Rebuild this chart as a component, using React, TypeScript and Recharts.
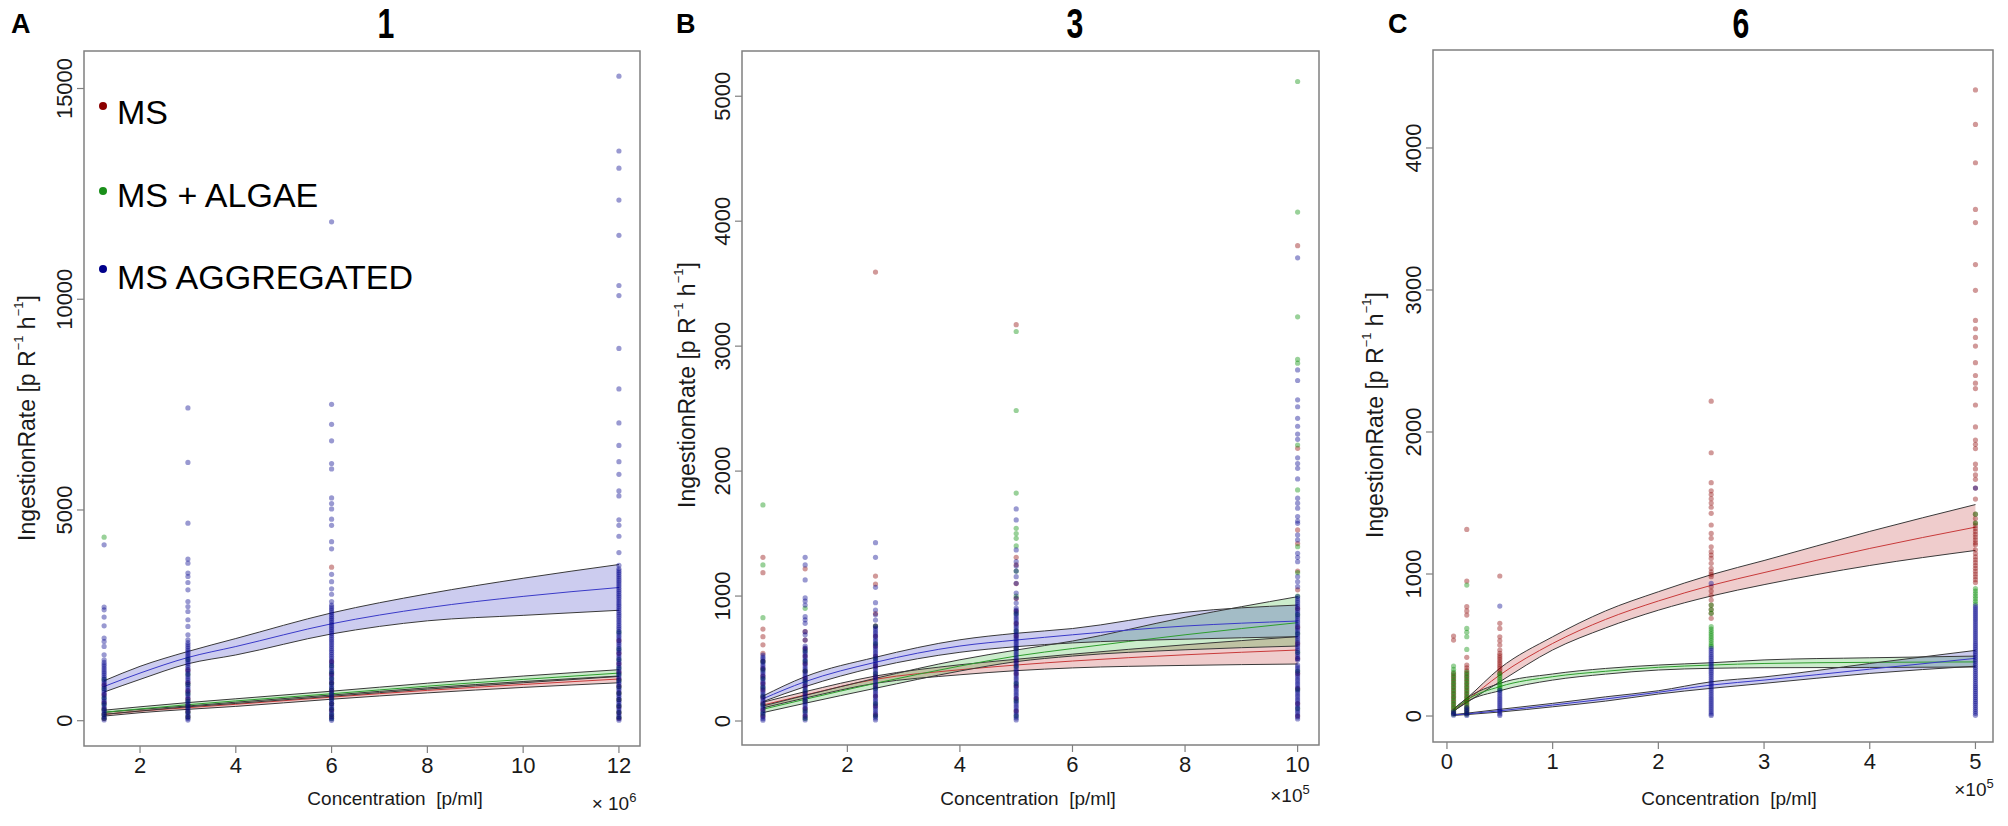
import React from "react";
import {
  ComposedChart,
  Scatter,
  Area,
  Line,
  XAxis,
  YAxis,
  ReferenceArea,
} from "recharts";

// ---------------------------------------------------------------------------
// Panel A — 1 (x 10^6 p/ml)
// ---------------------------------------------------------------------------
const A_CONC = [1.25, 3, 6, 12];

const A_MS = [
  [850, 620, 430, 280, 150, 50],
  [1200, 900, 700, 520, 360, 220, 90],
  [3644, 1400, 1100, 900, 720, 560, 400, 250, 100],
  [1900, 1600, 1350, 1150, 980, 820, 660, 500, 340, 190, 60],
];
const A_ALGAE = [
  [4355, 980, 760, 540, 390, 260, 150, 60],
  [1450, 1100, 860, 640, 470, 330, 200, 90],
  [1300, 1150, 1000, 880, 760, 640, 520, 400, 280, 150, 50],
  [2100, 1700, 1450, 1250, 1100, 950, 800, 650, 500, 350, 200, 80],
];
const A_AGG = [
  [4173, 2696, 2632, 2459, 2252, 1961, 1880, 1762, 1565, 1446,
    1385, 1340, 1296, 1250, 1205, 1160, 1118, 1074, 1030, 985, 940, 898, 852, 810, 765, 720,
    678, 632, 590, 545, 500, 458, 412, 370, 325, 280, 238, 192, 150, 105, 60, 18],
  [7421, 6129, 4687, 3834, 3739, 3502, 3422, 3279, 3106, 2829, 2710, 2591, 2395, 2236, 2039, 1920,
    1852, 1806, 1760, 1716, 1670, 1625, 1580, 1536, 1490, 1445, 1400, 1356, 1310, 1265, 1220,
    1176, 1130, 1085, 1040, 996, 950, 905, 860, 816, 770, 725, 680, 636, 590, 545, 500, 456,
    410, 365, 320, 276, 230, 185, 140, 96, 50, 15],
  [11836, 7507, 7033, 6640, 6103, 5975, 5287, 5154, 5025, 4782, 4635, 4249, 4078, 3474, 3300,
    3130, 3000, 2826, 2745, 2700, 2655, 2610, 2566, 2520, 2475, 2430, 2386, 2340, 2295, 2250,
    2206, 2160, 2115, 2070, 2026, 1980, 1935, 1890, 1846, 1800, 1755, 1710, 1666, 1620, 1575,
    1530, 1486, 1440, 1395, 1350, 1306, 1260, 1215, 1170, 1126, 1080, 1035, 990, 946, 900, 855,
    810, 766, 720, 675, 630, 586, 540, 495, 450, 406, 360, 315, 270, 226, 180, 135, 90, 46, 10],
  [15293, 13517, 13111, 12353, 11516, 10326, 10087, 8834, 7872, 7066, 6532, 6146, 5845, 5453,
    5334, 4766, 4635, 4377, 3990, 3687, 3604, 3560, 3515, 3470, 3426, 3380, 3335, 3290, 3246,
    3200, 3155, 3110, 3066, 3020, 2975, 2930, 2886, 2840, 2795, 2750, 2706, 2660, 2615, 2570,
    2526, 2480, 2435, 2390, 2346, 2300, 2255, 2210, 2166, 2120, 2075, 2030, 1986, 1940, 1895,
    1850, 1806, 1760, 1715, 1670, 1626, 1580, 1535, 1490, 1446, 1400, 1355, 1310, 1266, 1220,
    1175, 1130, 1086, 1040, 995, 950, 906, 860, 815, 770, 726, 680, 635, 590, 546, 500, 455,
    410, 366, 320, 275, 230, 186, 140, 95, 50, 12],
];

const A_FIT_X = [1.25, 2, 3, 4, 6, 8, 10, 12];
const A_MS_FIT = [150, 230, 310, 390, 560, 720, 860, 990];
const A_MS_LO = [110, 190, 270, 340, 510, 660, 790, 900];
const A_MS_HI = [200, 270, 350, 440, 610, 780, 930, 1060];
const A_ALGAE_FIT = [200, 280, 380, 470, 640, 820, 980, 1130];
const A_ALGAE_LO = [150, 230, 330, 410, 580, 750, 900, 1050];
const A_ALGAE_HI = [250, 330, 430, 520, 700, 890, 1060, 1210];
const A_AGG_FIT = [813, 1130, 1500, 1760, 2300, 2680, 2950, 3160];
const A_AGG_LO = [680, 980, 1351, 1560, 2059, 2370, 2500, 2620];
const A_AGG_HI = [948, 1290, 1643, 1950, 2558, 3010, 3380, 3706];

// ---------------------------------------------------------------------------
// Panel B — 3 (x 10^5 p/ml)
// ---------------------------------------------------------------------------
const B_CONC = [0.5, 1.25, 2.5, 5, 10];

const B_MS = [
  [1310, 1187, 736, 675, 610, 542, 480, 420, 360, 300, 250, 190, 140, 90, 40],
  [1218, 715, 648, 580, 520, 460, 400, 340, 280, 220, 160, 100, 40],
  [3593, 1160, 1096, 860, 760, 680, 600, 520, 440, 360, 280, 200, 120, 50],
  [3172, 1310, 1250, 1100, 980, 880, 780, 680, 580, 480, 380, 280, 180, 80],
  [3804, 2182, 1529, 1420, 1200, 1050, 900, 750, 620, 500, 380, 260, 140, 40],
];
const B_ALGAE = [
  [1729, 1249, 827, 475, 410, 340, 270, 200, 130, 60],
  [902, 560, 480, 400, 320, 240, 160, 80, 20],
  [760, 620, 500, 380, 260, 140, 40],
  [3117, 2485, 1824, 1542, 1500, 1462, 1401, 1200, 1000, 860, 720, 580, 440, 300, 160, 40],
  [5118, 4073, 3235, 2894, 2864, 2209, 1849, 1395, 1187, 1000, 850, 700, 550, 400, 250, 100],
];
const B_AGG = [
  [528, 511, 497, 480, 466, 449, 433, 418, 401, 386, 369, 353, 338, 321, 306, 289, 273, 258,
    241, 226, 209, 193, 178, 161, 146, 129, 113, 98, 81, 66, 49, 33, 18, 6],
  [1310, 1249, 1129, 985, 960, 928, 835, 810, 782, 715, 690, 648,
    600, 584, 569, 552, 537, 520, 505, 488, 473, 456, 441, 424, 409, 392, 377, 360, 345, 328,
    313, 296, 281, 264, 249, 232, 217, 200, 185, 168, 153, 136, 121, 104, 89, 72, 57, 40, 25, 8],
  [1427, 1310, 1070, 947, 888, 850, 808,
    760, 744, 729, 712, 697, 680, 665, 648, 633, 616, 601, 584, 569, 552, 537, 520, 505, 488,
    473, 456, 441, 424, 409, 392, 377, 360, 345, 328, 313, 296, 281, 264, 249, 232, 217, 200,
    185, 168, 153, 136, 121, 104, 89, 72, 57, 40, 25, 8],
  [1697, 1609, 1369, 1275, 1240, 1200, 1155, 1102, 1024, 984, 944,
    904, 888, 873, 856, 841, 824, 809, 792, 777, 760, 745, 728, 713, 696, 681, 664, 649, 632,
    617, 600, 585, 568, 553, 536, 521, 504, 489, 472, 457, 440, 425, 408, 393, 376, 361, 344,
    329, 312, 297, 280, 265, 248, 233, 216, 201, 184, 169, 152, 137, 120, 105, 88, 73, 56, 41, 24, 9],
  [3707, 2810, 2725, 2570, 2515, 2422, 2359, 2296, 2254, 2106, 2060, 2022, 1937, 1783, 1743,
    1703, 1636, 1600, 1582, 1489, 1449, 1342, 1310, 1275, 1155, 1115, 1075,
    995, 979, 962, 947, 930, 915, 898, 883, 866, 851, 834, 819, 802, 787, 770, 755, 738, 723,
    706, 691, 674, 659, 642, 627, 610, 595, 578, 563, 546, 531, 514, 499, 488,
    448, 432, 417, 400, 385, 368, 353, 336, 321, 304, 289, 272, 257, 240, 225, 208, 193, 176,
    161, 144, 129, 112, 97, 80, 65, 48, 33, 16],
];

const B_FIT_X = [0.5, 1.25, 2.5, 4, 5, 6, 8, 10];
const B_MS_FIT = [128, 208, 334, 410, 448, 480, 530, 568];
const B_MS_LO = [105, 184, 302, 370, 403, 425, 445, 456];
const B_MS_HI = [150, 235, 360, 450, 494, 535, 610, 675];
const B_ALGAE_FIT = [94, 174, 302, 440, 520, 580, 690, 787];
const B_ALGAE_LO = [67, 142, 262, 400, 475, 520, 570, 600];
const B_ALGAE_HI = [120, 205, 342, 490, 568, 640, 830, 995];
const B_AGG_FIT = [178, 315, 470, 600, 648, 690, 760, 800];
const B_AGG_LO = [155, 275, 430, 550, 595, 625, 655, 675];
const B_AGG_HI = [200, 355, 510, 650, 702, 740, 870, 928];

// ---------------------------------------------------------------------------
// Panel C — 6 (x 10^5 p/ml)
// ---------------------------------------------------------------------------
const C_CONC = [0.0625, 0.1875, 0.5, 2.5, 5];

const C_MS = [
  [563, 535, 300, 280, 260, 240, 220, 200, 180, 160, 140, 120, 100, 80, 60, 40, 20],
  [1314, 950, 770, 740, 711, 413, 359, 340, 320, 300, 280, 260, 240, 220, 200, 180, 160, 140,
    120, 100, 80, 60, 40, 20],
  [986, 653, 617, 558, 530, 500, 465, 441, 425, 410, 395, 380, 365, 350, 335, 320, 300],
  [2217, 1854, 1643, 1586, 1560, 1530, 1500, 1470, 1427, 1345, 1286, 1251, 1192, 1157, 1133,
    1110, 1075, 1040, 1016, 998, 981, 910, 880, 850, 817, 781, 750, 723, 688],
  [4409, 4166, 3896, 3567, 3475, 3179, 2998, 2786, 2727, 2666, 2605, 2488, 2398, 2344, 2306,
    2190, 2036, 1943, 1913, 1883, 1774, 1740, 1698, 1667, 1605, 1528, 1421, 1390, 1359, 1340,
    1320, 1300, 1280, 1260, 1240, 1220, 1206, 1170, 1144, 1120, 1100, 1080, 1060, 1040, 1020,
    1000, 980, 960, 940],
];
const C_ALGAE = [
  [352, 329, 310, 290, 270, 250, 230, 210, 190, 170, 150, 130, 110, 90, 70, 50, 30, 12],
  [922, 617, 590, 558, 469, 310, 290, 270, 250, 230, 210, 190, 170, 150, 130, 110, 90, 70, 50,
    30, 12],
  [300, 285, 270, 255, 240, 225, 210, 196, 183],
  [781, 750, 723, 629, 612, 596, 580, 564, 548, 532, 516, 500, 488],
  [1421, 1359, 898, 880, 862, 844, 826, 808, 790],
];
const C_AGG = [
  [30, 18, 6],
  [60, 45, 30, 16, 4],
  [774, 183, 169, 155, 141, 127, 113, 99, 85, 71, 57, 43, 29, 15, 4],
  [934, 477, 463, 449, 435, 421, 407, 393, 379, 365, 351, 337, 323, 309, 295, 281, 267, 253,
    239, 225, 211, 197, 183, 169, 155, 141, 127, 113, 99, 85, 71, 57, 43, 29, 15, 4],
  [1605, 775, 761, 747, 733, 719, 705, 691, 677, 663, 649, 635, 621, 607, 593, 579, 565, 551,
    537, 523, 509, 495, 481, 467, 453, 439, 425, 411, 397, 383, 369, 355, 341, 327, 313, 299,
    285, 271, 257, 243, 229, 215, 201, 187, 173, 159, 145, 131, 117, 103, 89, 75, 61, 47, 33, 19, 5],
];

const C_FIT_X = [0.0625, 0.1875, 0.5, 1, 1.5, 2, 2.5, 3, 4, 5];
const C_MS_FIT = [42, 110, 289, 511, 680, 810, 920, 1010, 1180, 1330];
const C_MS_LO = [35, 95, 241, 465, 620, 745, 845, 925, 1060, 1166];
const C_MS_HI = [50, 125, 336, 558, 740, 875, 995, 1095, 1300, 1489];
const C_ALGAE_FIT = [40, 113, 207, 277, 315, 343, 359, 370, 378, 381];
const C_ALGAE_LO = [32, 100, 178, 253, 295, 324, 336, 340, 342, 345];
const C_ALGAE_HI = [48, 125, 230, 296, 335, 359, 375, 395, 410, 422];
const C_AGG_FIT = [7, 15, 37, 77, 120, 167, 218, 253, 330, 406];
const C_AGG_LO = [4, 10, 28, 65, 105, 155, 195, 230, 300, 351];
const C_AGG_HI = [10, 20, 47, 89, 135, 178, 241, 275, 370, 462];

// ---------------------------------------------------------------------------

const FONT = "'Liberation Sans', Arial, Helvetica, sans-serif";
const INK = "#1a1a1a";
const AXIS = "#808080";
const EDGE = "#3a3a3a";

const RED = "#8b0000";
const GREEN = "#008b00";
const BLUE = "#00008b";

const SERIES = [
  { key: "ms", dot: RED, band: "#b00000", line: "#c83a3a" },
  { key: "algae", dot: GREEN, band: "#00a000", line: "#2e9e2e" },
  { key: "agg", dot: BLUE, band: "#0000b0", line: "#3a3ac8" },
];

type Fit = { mid: number[]; lo: number[]; hi: number[] };

interface PanelSpec {
  left: number;
  right: number;
  top: number;
  bottom: number;
  xDomain: [number, number];
  yDomain: [number, number];
  xTicks: number[];
  yTicks: number[];
  conc: number[];
  points: number[][][]; // per series, per concentration
  fitX: number[];
  fits: Fit[];
}

function toPoints(conc: number[], cols: number[][]) {
  return conc.flatMap((x, i) => cols[i].map((y) => ({ x, y })));
}

function toFitRows(xs: number[], fits: Fit[]) {
  return xs.map((x, i) => {
    const row: Record<string, unknown> = { x };
    fits.forEach((f, s) => {
      const k = SERIES[s].key;
      row[`${k}Mid`] = f.mid[i];
      row[`${k}Lo`] = f.lo[i];
      row[`${k}Hi`] = f.hi[i];
      row[`${k}Band`] = [f.lo[i], f.hi[i]];
    });
    return row;
  });
}

const PANELS: PanelSpec[] = [
  {
    left: 84, right: 640, top: 51, bottom: 746,
    xDomain: [0.83, 12.44], yDomain: [-600, 15890],
    xTicks: [2, 4, 6, 8, 10, 12], yTicks: [0, 5000, 10000, 15000],
    conc: A_CONC, points: [A_MS, A_ALGAE, A_AGG], fitX: A_FIT_X,
    fits: [
      { mid: A_MS_FIT, lo: A_MS_LO, hi: A_MS_HI },
      { mid: A_ALGAE_FIT, lo: A_ALGAE_LO, hi: A_ALGAE_HI },
      { mid: A_AGG_FIT, lo: A_AGG_LO, hi: A_AGG_HI },
    ],
  },
  {
    left: 742, right: 1319, top: 51, bottom: 745,
    xDomain: [0.128, 10.38], yDomain: [-192, 5362],
    xTicks: [2, 4, 6, 8, 10], yTicks: [0, 1000, 2000, 3000, 4000, 5000],
    conc: B_CONC, points: [B_MS, B_ALGAE, B_AGG], fitX: B_FIT_X,
    fits: [
      { mid: B_MS_FIT, lo: B_MS_LO, hi: B_MS_HI },
      { mid: B_ALGAE_FIT, lo: B_ALGAE_LO, hi: B_ALGAE_HI },
      { mid: B_AGG_FIT, lo: B_AGG_LO, hi: B_AGG_HI },
    ],
  },
  {
    left: 1433, right: 1993, top: 50, bottom: 742,
    xDomain: [-0.132, 5.166], yDomain: [-183, 4690],
    xTicks: [0, 1, 2, 3, 4, 5], yTicks: [0, 1000, 2000, 3000, 4000],
    conc: C_CONC, points: [C_MS, C_ALGAE, C_AGG], fitX: C_FIT_X,
    fits: [
      { mid: C_MS_FIT, lo: C_MS_LO, hi: C_MS_HI },
      { mid: C_ALGAE_FIT, lo: C_ALGAE_LO, hi: C_ALGAE_HI },
      { mid: C_AGG_FIT, lo: C_AGG_LO, hi: C_AGG_HI },
    ],
  },
];

const dotShape = (color: string) => (p: any) =>
  p.cx == null ? <g /> : (
    <circle cx={p.cx} cy={p.cy} r={2.6} fill={color} fillOpacity={0.4} />
  );

const XTick = (p: any) => (
  <text x={p.x} y={p.y + 18} textAnchor="middle" fontSize={22} fontFamily={FONT} fill={INK}>
    {p.payload.value}
  </text>
);

const YTick = (p: any) => (
  <text
    transform={`translate(${p.x - 3},${p.y}) rotate(-90)`}
    textAnchor="middle"
    fontSize={22}
    fontFamily={FONT}
    fill={INK}
  >
    {p.payload.value}
  </text>
);

const Y_AXIS_W = 70;
const X_AXIS_H = 40;
const H = 826;

function Panel({ p }: { p: PanelSpec }) {
  const rows = toFitRows(p.fitX, p.fits);
  const width = p.right - p.left + Y_AXIS_W + 12;
  return (
    <div style={{ position: "absolute", left: p.left - Y_AXIS_W, top: 0 }}>
      <ComposedChart
        width={width}
        height={H}
        data={rows}
        margin={{ top: p.top, right: 12, bottom: H - p.bottom - X_AXIS_H, left: 0 }}
      >
        <XAxis
          dataKey="x"
          type="number"
          domain={p.xDomain}
          ticks={p.xTicks}
          allowDataOverflow
          interval={0}
          height={X_AXIS_H}
          axisLine={false}
          tickSize={7}
          tickLine={{ stroke: AXIS, strokeWidth: 1.2 }}
          tick={XTick}
        />
        <YAxis
          type="number"
          domain={p.yDomain}
          ticks={p.yTicks}
          allowDataOverflow
          interval={0}
          width={Y_AXIS_W}
          axisLine={false}
          tickSize={7}
          tickLine={{ stroke: AXIS, strokeWidth: 1.2 }}
          tick={YTick}
        />
        {SERIES.map((s, i) => (
          <Scatter
            key={`pts-${s.key}`}
            data={toPoints(p.conc, p.points[i])}
            dataKey="y"
            shape={dotShape(s.dot)}
            isAnimationActive={false}
          />
        ))}
        {SERIES.map((s) => (
          <Area
            key={`band-${s.key}`}
            dataKey={`${s.key}Band`}
            type="monotone"
            stroke="none"
            fill={s.band}
            fillOpacity={0.2}
            isAnimationActive={false}
            activeDot={false}
          />
        ))}
        {SERIES.flatMap((s) => [
          <Line key={`lo-${s.key}`} dataKey={`${s.key}Lo`} type="monotone" stroke={EDGE} strokeWidth={1} dot={false} activeDot={false} isAnimationActive={false} />,
          <Line key={`hi-${s.key}`} dataKey={`${s.key}Hi`} type="monotone" stroke={EDGE} strokeWidth={1} dot={false} activeDot={false} isAnimationActive={false} />,
          <Line key={`mid-${s.key}`} dataKey={`${s.key}Mid`} type="monotone" stroke={s.line} strokeWidth={1} dot={false} activeDot={false} isAnimationActive={false} />,
        ])}
        <ReferenceArea
          x1={p.xDomain[0]}
          x2={p.xDomain[1]}
          y1={p.yDomain[0]}
          y2={p.yDomain[1]}
          fill="none"
          fillOpacity={0}
          stroke={AXIS}
          strokeWidth={1.5}
          ifOverflow="visible"
        />
      </ComposedChart>
    </div>
  );
}

function YLabel({ x, y }: { x: number; y: number }) {
  return (
    <text
      transform={`translate(${x},${y}) rotate(-90)`}
      textAnchor="middle"
      dominantBaseline="central"
      fontSize={23}
      fontFamily={FONT}
      fill={INK}
    >
      IngestionRate [p R
      <tspan fontSize={13} dy={-9}>−1</tspan>
      <tspan dy={9}> h</tspan>
      <tspan fontSize={13} dy={-9}>−1</tspan>
      <tspan dy={9}>]</tspan>
    </text>
  );
}

const LEGEND = [
  { label: "MS", color: RED, dotY: 106, base: 124 },
  { label: "MS + ALGAE", color: "#1a8f1a", dotY: 191, base: 207 },
  { label: "MS AGGREGATED", color: BLUE, dotY: 269, base: 289 },
];

function Decorations() {
  return (
    <svg
      width={2008}
      height={H}
      style={{ position: "absolute", left: 0, top: 0, pointerEvents: "none" }}
    >
      {[
        { t: "A", x: 11 },
        { t: "B", x: 676 },
        { t: "C", x: 1388 },
      ].map((l) => (
        <text key={l.t} x={l.x} y={33} fontSize={27} fontWeight="bold" fontFamily={FONT} fill="#000">
          {l.t}
        </text>
      ))}
      {[
        { t: "1", x: 386 },
        { t: "3", x: 1075 },
        { t: "6", x: 1741 },
      ].map((l) => (
        // narrow bold digits, like the condensed face in the original
        <text
          key={l.t}
          transform={`translate(${l.x},38) scale(0.72,1)`}
          textAnchor="middle"
          fontSize={42}
          fontWeight="bold"
          fontFamily={FONT}
          fill="#000"
        >
          {l.t}
        </text>
      ))}
      <YLabel x={27} y={418} />
      <YLabel x={687} y={385} />
      <YLabel x={1375} y={415} />
      {[395, 1028, 1729].map((x) => (
        <text key={x} x={x} y={805} textAnchor="middle" fontSize={19} fontFamily={FONT} fill={INK}>
          Concentration{"\u00a0\u00a0"}[p/ml]
        </text>
      ))}
      <text x={614} y={810} textAnchor="middle" fontSize={19} fontFamily={FONT} fill={INK}>
        × 10<tspan fontSize={13} dy={-8}>6</tspan>
      </text>
      <text x={1290} y={802} textAnchor="middle" fontSize={19} fontFamily={FONT} fill={INK}>
        ×10<tspan fontSize={13} dy={-8}>5</tspan>
      </text>
      <text x={1974} y={796} textAnchor="middle" fontSize={19} fontFamily={FONT} fill={INK}>
        ×10<tspan fontSize={13} dy={-8}>5</tspan>
      </text>
      {LEGEND.map((l) => (
        <g key={l.label}>
          <circle cx={103} cy={l.dotY} r={4} fill={l.color} />
          <text x={117} y={l.base} fontSize={34} fontFamily={FONT} fill="#000">
            {l.label}
          </text>
        </g>
      ))}
    </svg>
  );
}

export default function App() {
  return (
    <div
      style={{
        position: "absolute",
        left: 0,
        top: 0,
        width: 2008,
        height: H,
        background: "#fff",
        overflow: "hidden",
      }}
    >
      {PANELS.map((p, i) => (
        <Panel key={i} p={p} />
      ))}
      <Decorations />
    </div>
  );
}
